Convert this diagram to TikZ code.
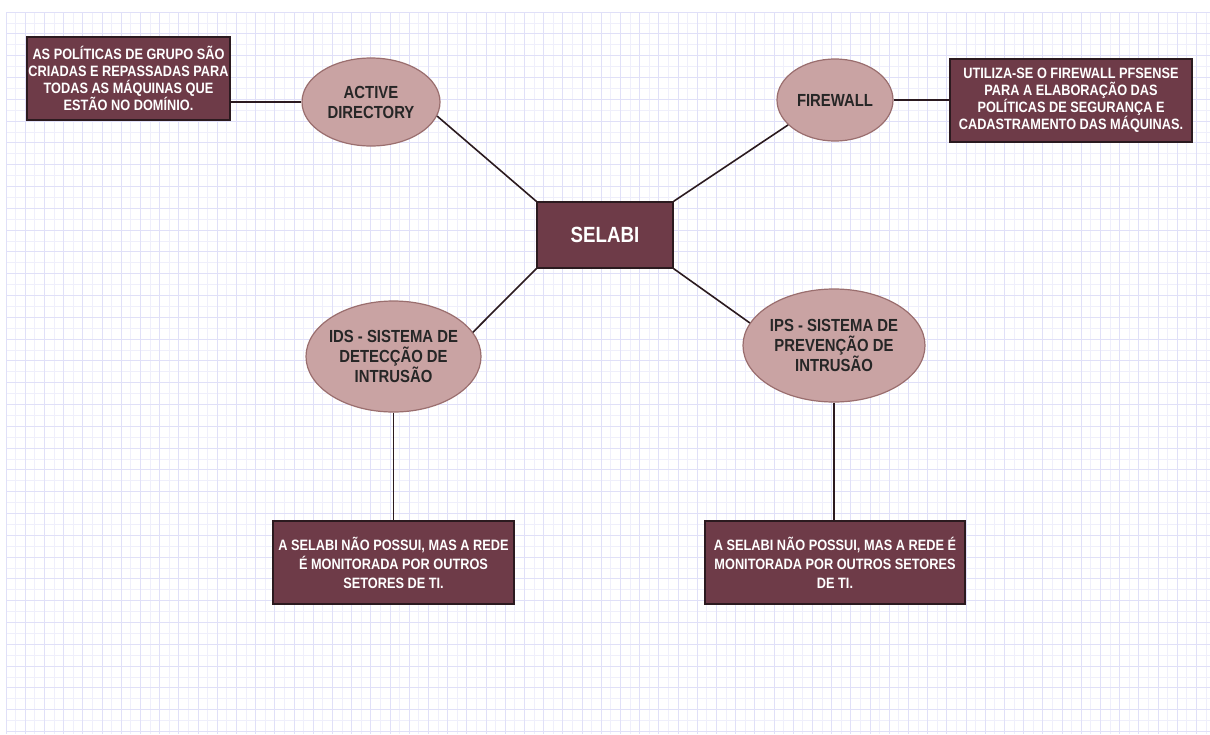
\documentclass[tikz,border=0pt]{standalone}
\usepackage{xcolor}
\usepackage{fontspec}
\usepackage{tikz}
\usetikzlibrary{shapes.geometric}
\newfontfamily\narrowfont{Liberation Sans}[FakeStretch=0.85]
\definecolor{boxfill}{HTML}{6E3B48}
\definecolor{boxline}{HTML}{2B1A1F}
\definecolor{ovalfill}{HTML}{C9A3A3}
\definecolor{ovalline}{HTML}{9A6E6E}
\definecolor{gridminor}{HTML}{EFEFFB}
\definecolor{gridmajor}{HTML}{E0E0F8}

\begin{document}
\begin{tikzpicture}[x=1pt,y=-1pt,
  infobox/.style={draw=boxline,line width=1.4pt,fill=boxfill,text=white,align=center,inner sep=0pt,font=\narrowfont\bfseries\fontsize{15}{17}\selectfont},
  topic/.style={ellipse,draw=ovalline,line width=1.2pt,fill=ovalfill,text=black!85,align=center,inner xsep=-14pt,inner ysep=0pt,font=\narrowfont\bfseries\fontsize{17.5}{20}\selectfont},
  hub/.style={draw=boxline,line width=1.4pt,fill=boxfill,text=white,minimum width=136pt,minimum height=66pt,font=\narrowfont\bfseries\fontsize{22}{24}\selectfont},
  link/.style={draw=boxline,line width=1.6pt}]
\fill[white] (0,0) rectangle (1210,734);
\useasboundingbox (0,0) rectangle (1210,734);
% grid
\foreach \i in {0,...,125} \draw[gridminor,line width=0.8pt] ({6+\i*9.6},12) -- ({6+\i*9.6},734);
\foreach \j in {0,...,66} \draw[gridminor,line width=0.8pt] (6,{12+\j*10.9}) -- (1210,{12+\j*10.9});
\foreach \i in {0,2,...,124} \draw[gridmajor,line width=0.8pt] ({6+\i*9.6},12) -- ({6+\i*9.6},734);
\foreach \j in {0,2,...,66} \draw[gridmajor,line width=0.8pt] (6,{12+\j*10.9}) -- (1210,{12+\j*10.9});

\node[hub] (selabi) at (605,235) {SELABI};
\node[topic,minimum width=138pt,minimum height=88pt] (ad) at (371,102) {ACTIVE\\DIRECTORY};
\node[topic,minimum width=116pt,minimum height=82pt] (fw) at (835,100) {FIREWALL};
\node[topic,minimum width=175pt,minimum height=111pt] (ids) at (393.5,356.5) {IDS - SISTEMA DE\\DETECÇÃO DE\\INTRUSÃO};
\node[topic,minimum width=182pt,minimum height=113pt] (ips) at (834,345.5) {IPS - SISTEMA DE\\PREVENÇÃO DE\\INTRUSÃO};
\node[infobox,minimum width=203pt,minimum height=83pt] (adbox) at (128.5,78.5) {AS POLÍTICAS DE GRUPO SÃO\\CRIADAS E REPASSADAS PARA\\TODAS AS MÁQUINAS QUE\\ESTÃO NO DOMÍNIO.};
\node[infobox,minimum width=242pt,minimum height=83pt] (fwbox) at (1071,100.5) {UTILIZA-SE O FIREWALL PFSENSE\\PARA A ELABORAÇÃO DAS\\POLÍTICAS DE SEGURANÇA E\\CADASTRAMENTO DAS MÁQUINAS.};
\node[infobox,minimum width=241pt,minimum height=83pt,font=\narrowfont\bfseries\fontsize{15}{19}\selectfont] (idsbox) at (393.5,562.5) {A SELABI NÃO POSSUI, MAS A REDE\\É MONITORADA POR OUTROS\\SETORES DE TI.};
\node[infobox,minimum width=260pt,minimum height=83pt,font=\narrowfont\bfseries\fontsize{15}{19}\selectfont] (ipsbox) at (835,562.5) {A SELABI NÃO POSSUI, MAS A REDE É\\MONITORADA POR OUTROS SETORES\\DE TI.};

\draw[link] (ad.-12) -- (selabi.north west);
\draw[link] (fw.-152) -- (selabi.north east);
\draw[link] (selabi.south west) -- (ids.17);
\draw[link] (selabi.south east) -- (ips.165);
\draw[link] (adbox.east |- ad.west) -- (ad.west);
\draw[link] (fw.east) -- (fwbox.west |- fw.east);
\draw[link] (ids.south) -- (idsbox.north);
\draw[link] (ips.south) -- (ips.south |- ipsbox.north);
\end{tikzpicture}
\end{document}
